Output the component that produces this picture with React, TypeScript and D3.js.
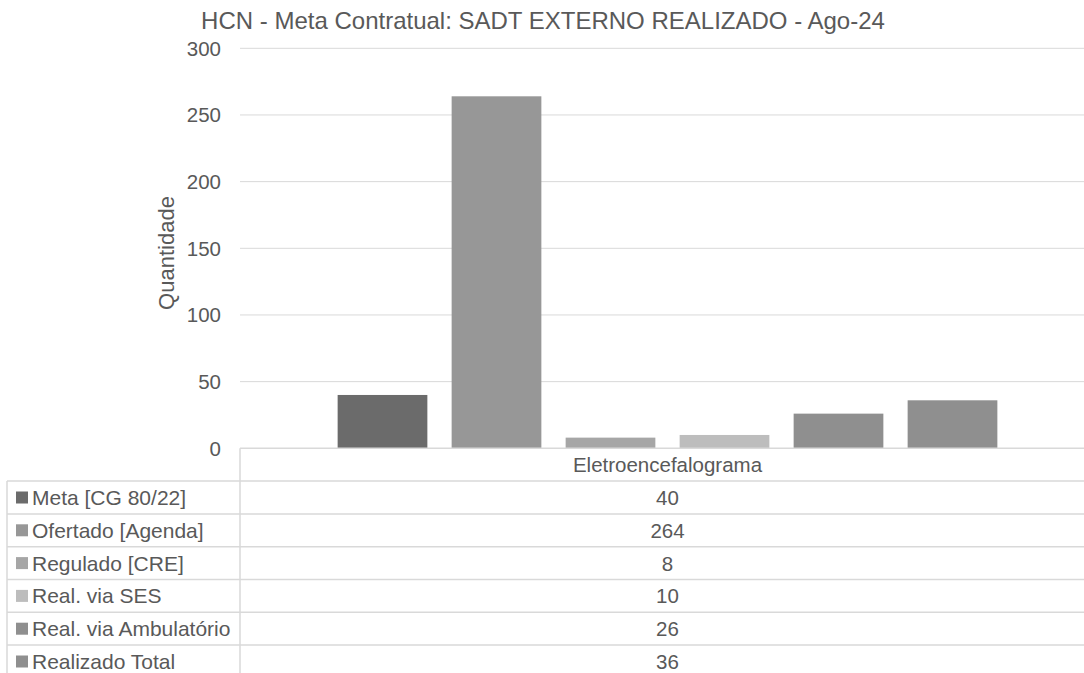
import React from "react";
import * as d3 from "d3";

const title = "HCN - Meta Contratual: SADT EXTERNO REALIZADO - Ago-24";
const categories = ["Eletroencefalograma"];
const seriesNames = [
  "Meta [CG 80/22]",
  "Ofertado [Agenda]",
  "Regulado [CRE]",
  "Real. via SES",
  "Real. via Ambulatório",
  "Realizado Total",
];
const seriesValues = [40, 264, 8, 10, 26, 36];
const seriesColors = ["#6b6b6b", "#979797", "#a6a6a6", "#bdbdbd", "#8f8f8f", "#8f8f8f"];
const yTicks = [0, 50, 100, 150, 200, 250, 300];
const yLabel = "Quantidade";

const W = 1084;
const H = 673;
const plotLeft = 240;
const plotRight = 1095;
const plotTop = 48.3;
const plotBottom = 448.3;
const tableLeft = 7;
const rowH = 32.8;
const font = "'Liberation Sans', Arial, sans-serif";
const textColor = "#595959";
const gridColor = "#d9d9d9";
const fs = 20.5;

export default function App() {
  const y = d3.scaleLinear().domain([0, 300]).range([plotBottom, plotTop]);
  const x = d3.scaleBand().domain(categories).range([plotLeft, plotRight]).padding(0);
  const cx0 = x(categories[0])!;
  const bw = x.bandwidth();
  const xs = d3
    .scaleBand()
    .domain(seriesNames)
    .range([cx0 + bw * 0.1, cx0 + bw * 0.9])
    .paddingInner(0.213)
    .paddingOuter(0.1065);
  const catCenter = cx0 + bw / 2;

  return (
    <svg
      width={W}
      height={H}
      style={{ position: "absolute", left: 0, top: 0, background: "#fff" }}
      fontFamily={font}
    >
      <text x={543} y={28.5} textAnchor="middle" fontSize={24} fill={textColor}>
        {title}
      </text>
      {yTicks.map((t) => (
        <g key={t}>
          {t !== 0 && (
            <line x1={plotLeft} x2={W} y1={y(t)} y2={y(t)} stroke={gridColor} strokeWidth={1} />
          )}
          <text
            x={221}
            y={y(t)}
            textAnchor="end"
            dominantBaseline="central"
            fontSize={fs}
            fill={textColor}
          >
            {t}
          </text>
        </g>
      ))}
      <text
        transform={`translate(174, 253) rotate(-90)`}
        textAnchor="middle"
        fontSize={22}
        fill={textColor}
      >
        {yLabel}
      </text>
      {seriesNames.map((s, i) => (
        <rect
          key={s}
          x={xs(s)!}
          width={xs.bandwidth()}
          y={y(seriesValues[i])}
          height={plotBottom - y(seriesValues[i])}
          fill={seriesColors[i]}
        />
      ))}
      {/* table */}
      <line x1={plotLeft} x2={W} y1={plotBottom} y2={plotBottom} stroke={gridColor} strokeWidth={1.5} />
      <text
        x={catCenter}
        y={plotBottom + rowH / 2}
        textAnchor="middle"
        dominantBaseline="central"
        fontSize={fs}
        fill={textColor}
      >
        {categories[0]}
      </text>
      {seriesNames.map((s, i) => {
        const top = plotBottom + rowH * (i + 1);
        return (
          <g key={s}>
            <line x1={tableLeft} x2={W} y1={top} y2={top} stroke={gridColor} strokeWidth={1.5} />
            <rect x={16} y={top + rowH / 2 - 6} width={12} height={12} fill={seriesColors[i]} />
            <text
              x={32}
              y={top + rowH / 2}
              dominantBaseline="central"
              fontSize={21}
              fill={textColor}
            >
              {s}
            </text>
            <text
              x={catCenter}
              y={top + rowH / 2}
              textAnchor="middle"
              dominantBaseline="central"
              fontSize={fs}
              fill={textColor}
            >
              {seriesValues[i]}
            </text>
          </g>
        );
      })}
      <line
        x1={plotLeft}
        x2={plotLeft}
        y1={plotBottom}
        y2={plotBottom + rowH * 7}
        stroke={gridColor}
        strokeWidth={1.5}
      />
      <line
        x1={tableLeft}
        x2={tableLeft}
        y1={plotBottom + rowH}
        y2={plotBottom + rowH * 7}
        stroke={gridColor}
        strokeWidth={1.5}
      />
      <line
        x1={tableLeft}
        x2={W}
        y1={plotBottom + rowH * 7}
        y2={plotBottom + rowH * 7}
        stroke={gridColor}
        strokeWidth={1.5}
      />
    </svg>
  );
}
